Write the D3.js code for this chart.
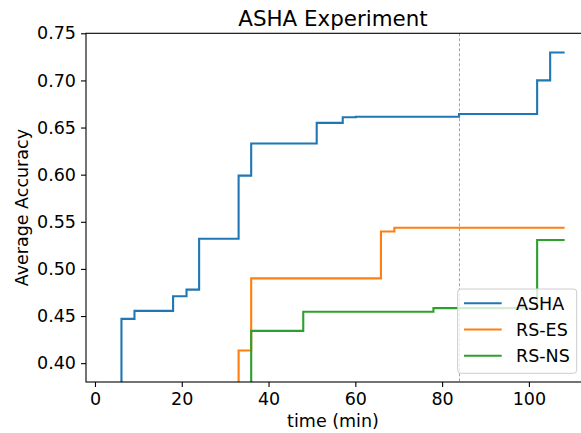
<!DOCTYPE html>
<html>
<head>
<meta charset="utf-8">
<script src="https://cdn.jsdelivr.net/npm/d3@7"></script>
<style>
  body { margin: 0; background: #fff; }
  text { font-family: "DejaVu Sans", sans-serif; fill: #000; }
</style>
</head>
<body>
<div id="chart"></div>
<script>
// series data (time in min, average accuracy)
var ashaTime = [0, 6.1, 9.1, 18.0, 21.1, 24.0, 33.1, 36.0, 51.1, 57.1, 60.1, 83.9, 101.9, 104.9, 108];
var ashaAcc  = [0.10, 0.447, 0.4555, 0.471, 0.478, 0.532, 0.599, 0.633, 0.655, 0.661, 0.6615, 0.6643, 0.700, 0.7297, 0.7297];

var esTime = [0, 33.1, 36.0, 65.9, 69.0, 108];
var esAcc  = [0.10, 0.4134, 0.490, 0.5397, 0.5436, 0.5436];

var nsTime = [0, 36.0, 48.0, 78.0, 101.9, 108];
var nsAcc  = [0.10, 0.4343, 0.4545, 0.4584, 0.5306, 0.5306];

var seriesNames = ["ASHA", "RS-ES", "RS-NS"];
var colors = ["#1f77b4", "#ff7f0e", "#2ca02c"];
var markerTime = 84;

var xTicks = [0, 20, 40, 60, 80, 100];
var yTicks = [0.40, 0.45, 0.50, 0.55, 0.60, 0.65, 0.70, 0.75];

var w = 581, h = 433;
var padL = 86, padR = 584, padT = 33.3, padB = 382;
var fs = "17.5px";

var svg = d3.select("#chart")
            .append("svg")
            .attr("width", w)
            .attr("height", h);

var x = d3.scaleLinear()
          .domain([-2.07, 112.7])
          .range([padL, padR]);

var y = d3.scaleLinear()
          .domain([0.38, 0.75])
          .range([padB, padT]);

svg.append("clipPath")
   .attr("id", "plotclip")
   .append("rect")
   .attr("x", padL)
   .attr("y", padT)
   .attr("width", padR - padL)
   .attr("height", padB - padT);

// dashed marker line
svg.append("line")
   .attr("x1", x(markerTime)).attr("x2", x(markerTime))
   .attr("y1", padT).attr("y2", padB)
   .attr("stroke", "#a0a0a0")
   .attr("stroke-width", 1)
   .attr("stroke-dasharray", "3,2");

var allSeries = [
  d3.zip(ashaTime, ashaAcc),
  d3.zip(esTime, esAcc),
  d3.zip(nsTime, nsAcc)
];

var line = d3.line()
             .x(function(d){ return x(d[0]); })
             .y(function(d){ return y(d[1]); })
             .curve(d3.curveStepAfter);

svg.append("g")
   .attr("clip-path", "url(#plotclip)")
   .selectAll("path")
   .data(allSeries)
   .enter()
   .append("path")
   .attr("d", line)
   .attr("fill", "none")
   .attr("stroke", function(d, i){ return colors[i]; })
   .attr("stroke-width", 2.1)
   .attr("stroke-linejoin", "miter")
   .attr("stroke-linecap", "square");

// axes
var xAxis = svg.append("g")
   .attr("transform", "translate(0," + padB + ")")
   .call(d3.axisBottom(x).tickValues(xTicks).tickFormat(d3.format("d")).tickSize(5).tickPadding(5));

var yAxis = svg.append("g")
   .attr("transform", "translate(" + padL + ",0)")
   .call(d3.axisLeft(y).tickValues(yTicks).tickFormat(d3.format(".2f")).tickSize(5).tickPadding(5));

[xAxis, yAxis].forEach(function(a){
  a.select(".domain").remove();
  a.selectAll("line").attr("stroke", "#000").attr("stroke-width", 1.1);
  a.selectAll("text").style("font-size", fs).attr("font-family", "DejaVu Sans");
});
xAxis.selectAll("text").attr("dy", "0.72em");

// spines
svg.append("rect")
   .attr("x", padL).attr("y", padT)
   .attr("width", padR - padL).attr("height", padB - padT)
   .attr("fill", "none")
   .attr("stroke", "#000")
   .attr("stroke-width", 1.1);

// title and labels
svg.append("text")
   .attr("x", (padL + 580) / 2).attr("y", 26)
   .attr("text-anchor", "middle")
   .style("font-size", "21.4px")
   .text("ASHA Experiment");

svg.append("text")
   .attr("x", (padL + 580) / 2).attr("y", 427)
   .attr("text-anchor", "middle")
   .style("font-size", fs)
   .text("time (min)");

svg.append("text")
   .attr("transform", "translate(28," + ((padT + padB) / 2) + ") rotate(-90)")
   .attr("text-anchor", "middle")
   .style("font-size", fs)
   .text("Average Accuracy");

// legend
var legend = svg.append("g");
legend.append("rect")
      .attr("x", 457.7).attr("y", 289)
      .attr("width", 119).attr("height", 84.3)
      .attr("rx", 3)
      .attr("fill", "#fff")
      .attr("fill-opacity", 0.8)
      .attr("stroke", "#cccccc")
      .attr("stroke-width", 1);

var items = legend.selectAll(".item")
      .data(seriesNames)
      .enter()
      .append("g")
      .attr("class", "item")
      .attr("transform", function(d, i){ return "translate(0," + (303.3 + i * 26.2) + ")"; });

items.append("line")
     .attr("x1", 464).attr("x2", 501.7)
     .attr("stroke", function(d, i){ return colors[i]; })
     .attr("stroke-width", 2.1);

items.append("text")
     .attr("x", 516).attr("dy", "0.36em")
     .style("font-size", fs)
     .text(function(d){ return d; });
</script>
</body>
</html>
